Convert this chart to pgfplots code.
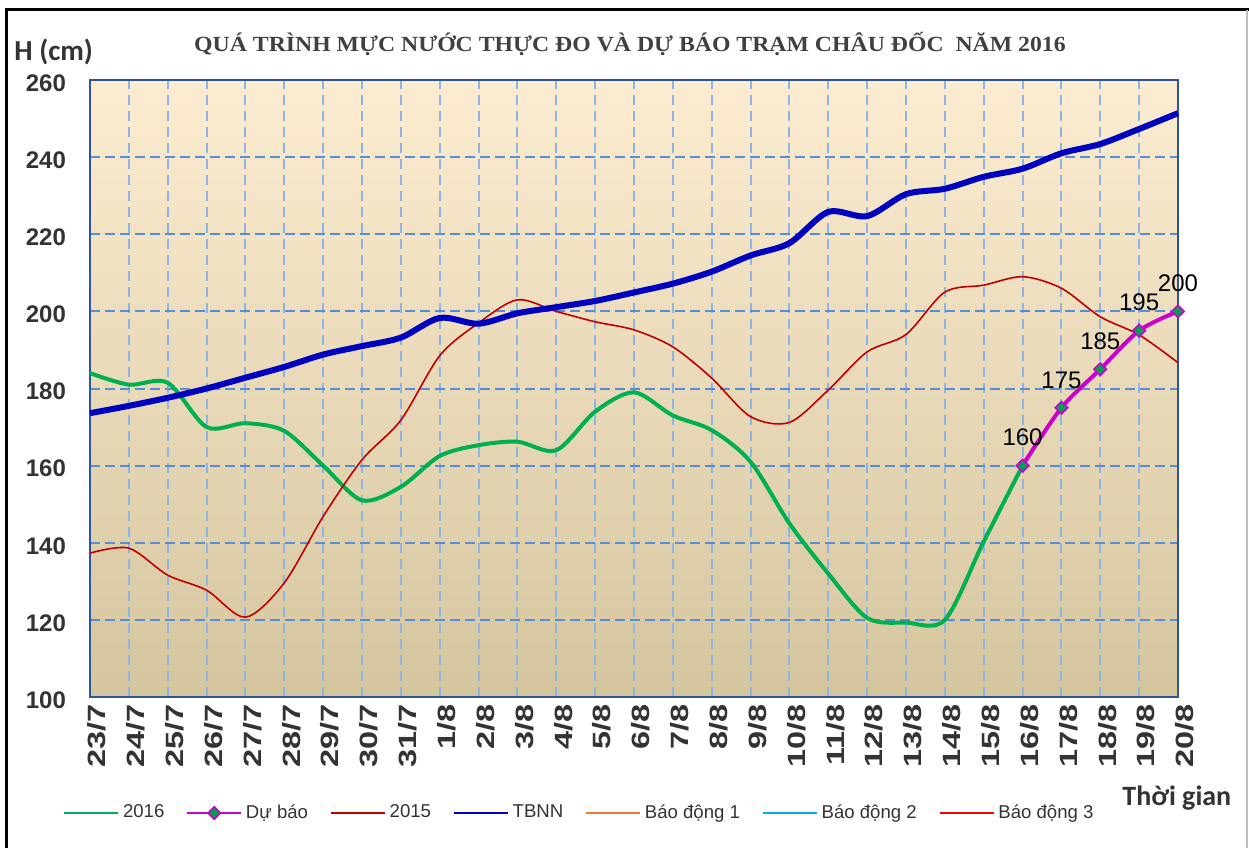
\documentclass[border=0pt]{standalone}
\usepackage{fontspec}
\setmainfont{Liberation Sans}
\newfontfamily\calibri{Carlito}
\newfontfamily\titlefont[FakeStretch=1.1]{Liberation Serif}
\newfontfamily\xtickfont[FakeStretch=1.3]{Liberation Sans}
\usepackage{pgfplots}
\pgfplotsset{compat=1.18}

\definecolor{c2016}{RGB}{0,176,80}
\definecolor{cfc}{RGB}{204,0,204}
\definecolor{cmark}{RGB}{0,160,80}
\definecolor{c2015}{RGB}{192,0,0}
\definecolor{ctbnn}{RGB}{0,0,192}
\definecolor{cbd1}{RGB}{237,125,49}
\definecolor{cbd2}{RGB}{0,176,240}
\definecolor{cbd3}{RGB}{255,0,0}
\definecolor{gridh}{RGB}{85,142,213}
\definecolor{gridv}{RGB}{141,180,226}
\definecolor{frameblue}{RGB}{47,85,151}
\definecolor{txt}{RGB}{51,51,51}
\definecolor{bgtop}{RGB}{252,237,210}
\definecolor{bgmid}{RGB}{242,234,213}
\definecolor{bgbot}{RGB}{213,197,158}

\begin{document}
\begin{tikzpicture}
\path[use as bounding box] (-45pt,-75.5pt) rectangle (579.5pt,348.5pt);
\begin{axis}[
    at={(0,0)}, anchor=south west,
    scale only axis,
    width=544pt, height=308.5pt,
    xmin=0, xmax=28, ymin=100, ymax=260,
    xtick={0,...,28},
    xticklabels={23/7,24/7,25/7,26/7,27/7,28/7,29/7,30/7,31/7,1/8,2/8,3/8,4/8,5/8,6/8,7/8,8/8,9/8,10/8,11/8,12/8,13/8,14/8,15/8,16/8,17/8,18/8,19/8,20/8},
    ytick={100,120,...,260},
    major tick length=0pt,
    /pgf/number format/assume math mode=true,
    yticklabel style={font=\fontsize{12}{14}\selectfont\bfseries, text=txt, xshift=-8.5pt, yshift=-1.5pt},
    xticklabel style={font=\xtickfont\bfseries\fontsize{12.5}{14}\selectfont, text=txt, rotate=90, anchor=east, yshift=-3.5pt},
    xmajorgrids, ymajorgrids,
    x grid style={gridv, line width=1pt, dash pattern=on 5pt off 3pt},
    y grid style={gridh, line width=1pt, dash pattern=on 5pt off 2.5pt},
    axis line style={frameblue, line width=1pt},
    axis background/.style={top color=bgtop, middle color=bgmid, bottom color=bgbot},
    clip=false,
    legend columns=7,
    legend style={at={(-0.0248,-0.188)}, anchor=west, draw=none, fill=none,
        inner sep=0pt, font=\fontsize{9.3}{11}\selectfont, text=txt,
        /tikz/every even column/.append style={column sep=9pt}},
    legend cell align=left,
    legend image code/.code={\draw[mark repeat=2,mark phase=2,#1] plot coordinates {(0pt,0pt) (13.5pt,0pt) (27pt,0pt)};},
    legend image post style={line width=0.8pt},
]
% 2016
\addplot[c2016, line width=2pt, smooth] coordinates {
    (0,184) (1,181) (2,181.5) (3,170) (4,171) (5,169) (6,160) (7,151) (8,154.5)
    (9,162.5) (10,165.3) (11,166.2) (12,164) (13,174) (14,179) (15,173) (16,169.2)
    (17,161) (18,145) (19,132) (20,120.5) (21,119.3) (22,120) (23,140.3) (24,160)
};
\addlegendentry{2016}
% Du bao
\addplot[cfc, line width=2pt, smooth, mark=square*, mark size=2.2pt,
    mark options={fill=cmark, draw=cfc, line width=0.8pt, rotate=45},
    nodes near coords,
    every node near coord/.append style={font=\fontsize{12}{14}\selectfont, text=black, yshift=6pt}]
    coordinates {(24,160) (25,175) (26,185) (27,195) (28,200)};
\addlegendentry{Dự báo}
% 2015
\addplot[c2015, line width=0.8pt, smooth] coordinates {
    (0,137.3) (1,138.6) (2,131.6) (3,127.7) (4,120.7) (5,129.6) (6,146.8) (7,161.5)
    (8,171.8) (9,188.5) (10,197) (11,203) (12,200) (13,197.3) (14,195.2) (15,190.8)
    (16,182.7) (17,172.7) (18,171.2) (19,179.6) (20,189.5) (21,194) (22,205) (23,206.8)
    (24,209) (25,206) (26,198.6) (27,193.9) (28,186.7)
};
\addlegendentry{2015}
% TBNN
\addplot[ctbnn, line width=3pt, smooth] coordinates {
    (0,173.6) (1,175.5) (2,177.6) (3,180) (4,182.8) (5,185.6) (6,188.8) (7,191)
    (8,193.2) (9,198.3) (10,196.8) (11,199.5) (12,201.1) (13,202.7) (14,204.9)
    (15,207.2) (16,210.3) (17,214.5) (18,217.7) (19,225.8) (20,224.7) (21,230.4)
    (22,231.8) (23,234.9) (24,237) (25,241) (26,243.4) (27,247.3) (28,251.4)
};
\addlegendentry{TBNN}
\addlegendimage{cbd1}
\addlegendentry{Báo động 1}
\addlegendimage{cbd2}
\addlegendentry{Báo động 2}
\addlegendimage{cbd3}
\addlegendentry{Báo động 3}
\end{axis}
\draw[black, line width=1.5pt] (-41.5pt,-75.5pt) -- (-41.5pt,343.5pt) -- (579.5pt,343.5pt);
\draw[black!25, line width=0.6pt] (578.5pt,343.5pt) -- (578.5pt,-75.5pt);
\node[font=\titlefont\bfseries\fontsize{10.8}{12}\selectfont, text=black!75] at (270pt,326.5pt)
    {QUÁ TRÌNH MỰC NƯỚC THỰC ĐO VÀ DỰ BÁO TRẠM CHÂU ĐỐC\ \ NĂM 2016};
\node[anchor=west, inner sep=0pt, font=\calibri\bfseries\fontsize{14.5}{16}\selectfont, text=txt] at (-38pt,322.5pt) {H (cm)};
\node[anchor=west, inner sep=0pt, font=\calibri\bfseries\fontsize{14}{16}\selectfont, text=txt] at (516pt,-50.5pt) {Thời gian};
\end{tikzpicture}
\end{document}
